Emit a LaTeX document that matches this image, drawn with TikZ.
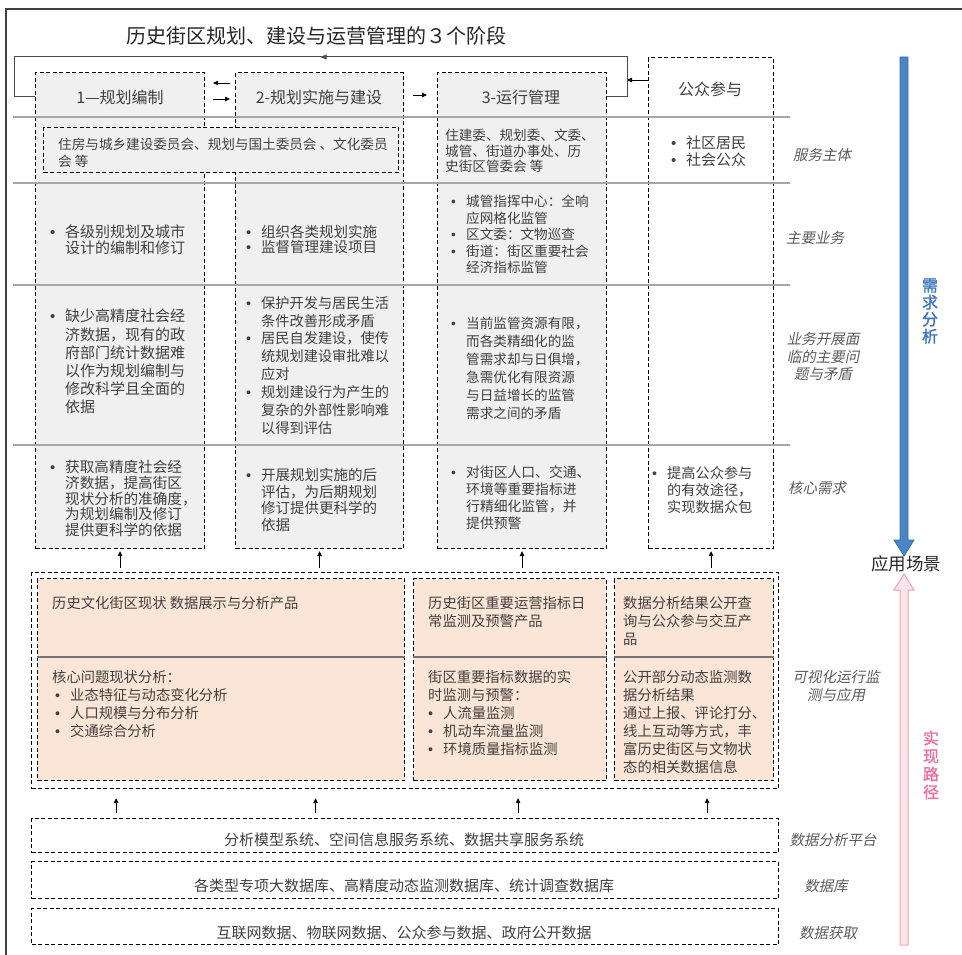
\documentclass[tikz,border=0pt]{standalone}
\usepackage{fontspec}
\setmainfont{Noto Sans CJK SC}
\newfontfamily\slfont{Noto Sans CJK SC}[FakeSlant=0.2]
\newfontfamily\bfcjk{Noto Sans CJK SC}[FakeBold=1.6]
\newfontfamily\latinfont{Liberation Sans}
\usepackage{tikz}
\usetikzlibrary{arrows.meta, calc}
\definecolor{colgray}{HTML}{F0F0F0}
\definecolor{prodfill}{HTML}{FBE5D6}
\definecolor{sepline}{HTML}{A6A6A6}
\definecolor{txtgray}{HTML}{404040}
\definecolor{lblgray}{HTML}{5A5A5A}
\definecolor{needblue}{HTML}{4A86C5}
\definecolor{needblueD}{HTML}{3A6EA5}
\definecolor{needtxt}{HTML}{3E75BD}
\definecolor{pathpink}{HTML}{FDE3EA}
\definecolor{pathpinkD}{HTML}{F2A2BA}
\definecolor{pathtxt}{HTML}{EE70A2}
\newcommand{\bl}{\makebox[15pt][l]{\latinfont •}}
\newcommand{\ind}{\hspace*{15pt}}

\begin{document}
\begin{tikzpicture}[x=1pt, y=-1pt,
  box/.style={draw=black, dash pattern=on 4pt off 2.5pt, line width=1.1pt, inner sep=0pt, anchor=north west},
  colbox/.style={box, fill=colgray},
  prodbox/.style={box, fill=prodfill},
  txt/.style={inner sep=0pt, anchor=north west, align=left, text=txtgray, font=\fontsize{14.3}{18}\selectfont},
  btxt/.style={inner sep=0pt, text=txtgray, font=\fontsize{15}{18}\selectfont},
  hd/.style={inner sep=0pt, text=txtgray, font=\fontsize{16}{18}\selectfont},
  lbl/.style={inner sep=0pt, align=center, text=lblgray, font=\slfont\fontsize{14.5}{17.5}\selectfont},
  sep/.style={draw=sepline, line width=1.4pt},
  divl/.style={draw=black!55, line width=1.3pt},
  arr/.style={-{Triangle[length=5pt,width=4.5pt]}, line width=0.8pt, draw=black},
  loopline/.style={draw=black!70, line width=1pt}]

  \useasboundingbox (0,0) rectangle (962,955);
  \draw[black!75, line width=1.2pt] (962,9) -- (6,9) -- (6,955);

  \node[inner sep=0pt, text=black!85, font=\fontsize{20}{24}\selectfont] (title) at (316,36)
    {历史街区规划、建设与运营管理的３个阶段};

  % stage columns
  \node[colbox, minimum width=169pt, minimum height=476pt] (col1) at (35,72) {};
  \node[colbox, minimum width=168pt, minimum height=476pt] (col2) at (235,72) {};
  \node[colbox, minimum width=169pt, minimum height=476pt] (col3) at (437,72) {};
  \node[box, fill=white, minimum width=125pt, minimum height=491pt] (col4) at (648,57) {};

  \foreach \yy in {117,183,285,445}
    \draw[sep] (13,\yy) -- (790,\yy);

  \node[colbox, minimum width=355pt, minimum height=45pt] (org12) at (43,127) {};

  \node[hd] (hd1) at (120,97) {1—规划编制};
  \node[hd] (hd2) at (319,97) {2-规划实施与建设};
  \node[hd] (hd3) at (521,97) {3-运行管理};
  \node[hd] (hd4) at (710,89) {公众参与};

  \coordinate (loopR) at (627,57);
  \coordinate (loopL) at (14,57);
  \coordinate (pubJ) at (627,80);
  \draw[loopline] (col3.east |- hd3) -| (loopR) -- (loopL) |- (col1.west |- hd1);
  \draw[loopline, -{Triangle[length=6pt,width=5pt]}] (loopR) -- ($(loopR)!0.5!(loopL)$);
  \draw[arr] (col4.west |- pubJ) -- (pubJ);
  \draw[arr] ($(col2.west |- hd2)+(-5,-14)$) -- ($(col1.east |- hd1)+(8,-14)$);
  \draw[arr] ($(col1.east |- hd1)+(8,2)$) -- ($(col2.west |- hd2)+(-5,2)$);
  \draw[arr] ($(col2.east |- hd2)+(9,-2)$) -- ($(col3.west |- hd3)+(-10,-2)$);

  % service bodies
  \node[txt, font=\fontsize{13.6}{17}\selectfont] (t12a) at (58,138)
    {住房与城乡建设委员会、规划与国土委员会 、文化委员\\会 等};
  \node[txt, font=\fontsize{13.6}{15.5}\selectfont] (t3a) at (445,129)
    {住建委、规划委、文委、\\城管、街道办事处、历\\史街区管委会 等};
  \node[txt, font=\fontsize{15}{17}\selectfont] (t4a) at (671,136)
    {\bl 社区居民\\\bl 社会公众};

  % main business
  \node[txt, font=\fontsize{15}{15.5}\selectfont] (t1b) at (50,225)
    {\bl 各级别规划及城市\\\ind 设计的编制和修订};
  \node[txt, font=\fontsize{14.5}{15.5}\selectfont] (t2b) at (246,225)
    {\bl 组织各类规划实施\\\bl 监督管理建设项目};
  \node[txt, font=\fontsize{13.6}{16.5}\selectfont] (t3b) at (451,195)
    {\bl 城管指挥中心：全响\\\ind 应网格化监管\\\bl 区文委：文物巡查\\\bl 街道：街区重要社会\\\ind 经济指标监管};

  % problems
  \node[txt, font=\fontsize{15}{18.2}\selectfont] (t1c) at (50,309)
    {\bl 缺少高精度社会经\\\ind 济数据，现有的政\\\ind 府部门统计数据难\\\ind 以作为规划编制与\\\ind 修改科学且全面的\\\ind 依据};
  \node[txt, font=\fontsize{14.2}{17.9}\selectfont] (t2c) at (246,296)
    {\bl 保护开发与居民生活\\\ind 条件改善形成矛盾\\\bl 居民自发建设，使传\\\ind 统规划建设审批难以\\\ind 应对\\\bl 规划建设行为产生的\\\ind 复杂的外部性影响难\\\ind 以得到评估};
  \node[txt, font=\fontsize{13.6}{18}\selectfont] (t3c) at (451,317)
    {\bl 当前监管资源有限，\\\ind 而各类精细化的监\\\ind 管需求却与日俱增，\\\ind 急需优化有限资源\\\ind 与日益增长的监管\\\ind 需求之间的矛盾};

  % core needs
  \node[txt, font=\fontsize{14.6}{15.8}\selectfont] (t1d) at (50,460)
    {\bl 获取高精度社会经\\\ind 济数据，提高街区\\\ind 现状分析的准确度，\\\ind 为规划编制及修订\\\ind 提供更科学的依据};
  \node[txt, font=\fontsize{14.5}{16.7}\selectfont] (t2d) at (246,468)
    {\bl 开展规划实施的后\\\ind 评估，为后期规划\\\ind 修订提供更科学的\\\ind 依据};
  \node[txt, font=\fontsize{13.8}{16.9}\selectfont] (t3d) at (451,466)
    {\bl 对街区人口、交通、\\\ind 环境等重要指标进\\\ind 行精细化监管，并\\\ind 提供预警};
  \node[txt, font=\fontsize{14.2}{17.3}\selectfont] (t4d) at (652,466)
    {\bl 提高公众参与\\\ind 的有效途径，\\\ind 实现数据众包};

  \node[lbl] (lb1) at (822,155) {服务主体};
  \node[lbl] (lb2) at (815,238) {主要业务};
  \node[lbl] (lb3) at (823,357) {业务开展面\\临的主要问\\题与矛盾};
  \node[lbl] (lb4) at (817,488) {核心需求};
  \node[lbl] (lb5) at (836,686) {可视化运行监\\测与应用};
  \node[lbl] (lb6) at (833,840) {数据分析平台};
  \node[lbl] (lb7) at (826,886) {数据库};
  \node[lbl] (lb8) at (828,933) {数据获取};

  % products
  \node[box, minimum width=747pt, minimum height=216pt] (prods) at (31,572) {};
  \node[prodbox, minimum width=367pt, minimum height=202pt] (prod1) at (37,578) {};
  \node[prodbox, minimum width=193pt, minimum height=202pt] (prod2) at (413,578) {};
  \node[prodbox, minimum width=159pt, minimum height=202pt] (prod3) at (614,578) {};
  \coordinate (divY) at (0,657);
  \foreach \p in {prod1,prod2,prod3}
    \draw[divl] (\p.west |- divY) -- (\p.east |- divY);

  \node[txt] (p1a) at (52,596) {历史文化街区现状 数据展示与分析产品};
  \node[txt] (p1b) at (52,670)
    {核心问题现状分析：\\\hspace*{3pt}\bl 业态特征与动态变化分析\\\hspace*{3pt}\bl 人口规模与分布分析\\\hspace*{3pt}\bl 交通综合分析};
  \node[txt] (p2a) at (428,596) {历史街区重要运营指标日\\常监测及预警产品};
  \node[txt] (p2b) at (428,670)
    {街区重要指标数据的实\\时监测与预警：\\\bl 人流量监测\\\bl 机动车流量监测\\\bl 环境质量指标监测};
  \node[txt] (p3a) at (623,596) {数据分析结果公开查\\询与公众参与交互产\\品};
  \node[txt] (p3b) at (623,670)
    {公开部分动态监测数\\据分析结果\\通过上报、评论打分、\\线上互动等方式，丰\\富历史街区与文物状\\态的相关数据信息};

  \foreach \c in {col1,col2,col3,col4}
    \draw[arr] ($(\c.south |- prods.north)+(0,-4)$) -- ($(\c.south)+(0,2)$);

  % data layers
  \node[box, minimum width=747pt, minimum height=34pt] (plat) at (31,818) {};
  \node[box, minimum width=747pt, minimum height=37pt] (dbase) at (31,861) {};
  \node[box, minimum width=747pt, minimum height=36pt] (acq) at (31,908) {};
  \node[btxt] (platT) at (404,840) {分析模型系统、空间信息服务系统、数据共享服务系统};
  \node[btxt] (dbaseT) at (404,886) {各类型专项大数据库、高精度动态监测数据库、统计调查数据库};
  \node[btxt] (acqT) at (404,933) {互联网数据、物联网数据、公众参与数据、政府公开数据};

  \foreach \c in {col1,col2,col3,col4}
    \draw[arr] ($(\c.south |- plat.north)+(-4,-5)$) -- ($(\c.south |- prods.south)+(-4,9)$);

  % demand / realisation arrows
  \filldraw[fill=needblue, draw=needblueD, line width=0.8pt]
    (900,57) -- (908,57) -- (908,540) -- (914,540) -- (904,556) -- (894,540) -- (900,540) -- cycle;
  \filldraw[fill=pathpink, draw=pathpinkD, line width=1pt]
    (900,945) -- (908,945) -- (908,590) -- (914,590) -- (904,574) -- (894,590) -- (900,590) -- cycle;
  \node[inner sep=0pt, align=center, text=needtxt, font=\bfcjk\fontsize{16}{17}\selectfont] (need) at (930,311) {需\\求\\分\\析};
  \node[inner sep=0pt, align=center, text=pathtxt, font=\bfcjk\fontsize{16}{18}\selectfont] (path) at (931,765) {实\\现\\路\\径};
  \node[inner sep=0pt, text=black!85, font=\fontsize{17.5}{20}\selectfont] (scene) at (906,564) {应用场景};

\end{tikzpicture}
\end{document}
